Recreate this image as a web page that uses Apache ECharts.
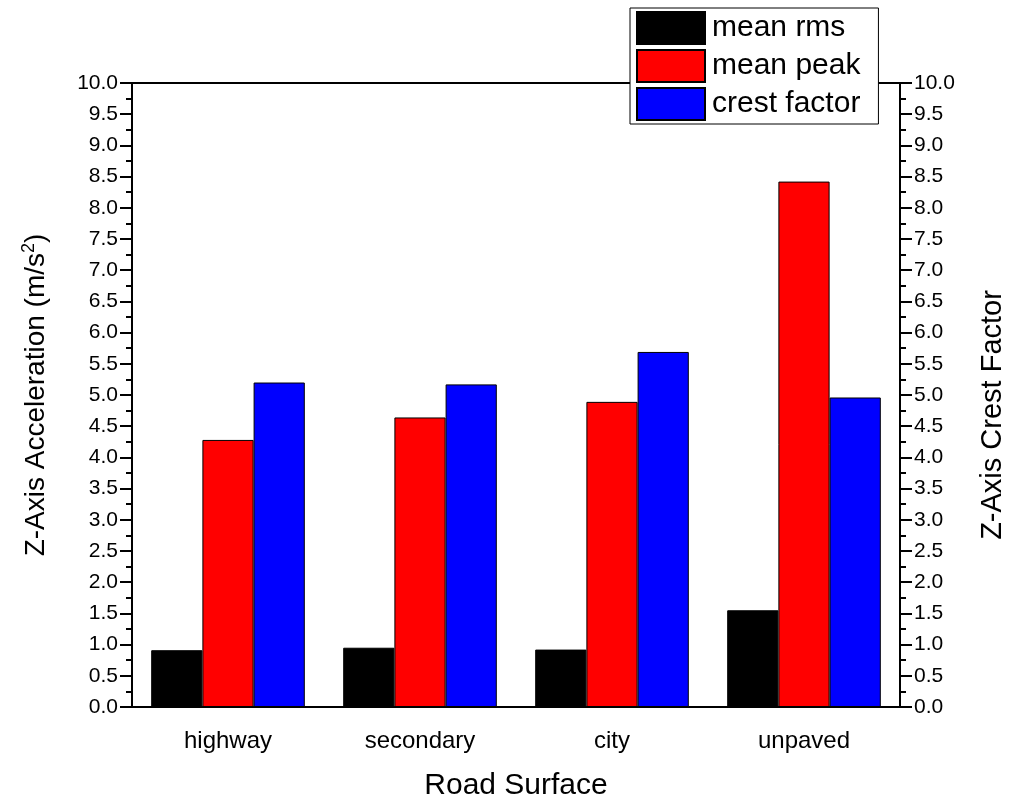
<!DOCTYPE html>
<html>
<head>
<meta charset="utf-8">
<script src="https://cdn.jsdelivr.net/npm/echarts@6/dist/echarts.min.js"></script>
<style>
  html, body { margin: 0; padding: 0; background: #fff; }
  #chart { width: 1010px; height: 799px; }
</style>
</head>
<body>
<div id="chart"></div>
<script>
// Road surfaces compared
const categories = ['highway', 'secondary', 'city', 'unpaved'];
// Z-axis acceleration (m/s^2)
const meanRms = [0.91, 0.95, 0.92, 1.55];
const meanPeak = [4.28, 4.64, 4.89, 8.42];
// Z-axis crest factor
const crestFactor = [5.20, 5.17, 5.69, 4.96];

const seriesNames = ['mean rms', 'mean peak', 'crest factor'];
const seriesColors = ['#000000', '#ff0000', '#0000ff'];

const FONT = 'Liberation Sans, Arial, sans-serif';

function valueAxis(name, position, nameGap, nameStyle) {
  return {
    type: 'value',
    position: position,
    min: 0,
    max: 10,
    interval: 0.5,
    name: name,
    nameLocation: 'middle',
    nameGap: nameGap,
    nameTextStyle: nameStyle,
    axisLine: { show: true, lineStyle: { color: '#000', width: 2 } },
    axisTick: { show: true, inside: false, length: 12, lineStyle: { color: '#000', width: 2 } },
    minorTick: { show: true, splitNumber: 2, length: 6, lineStyle: { color: '#000', width: 2 } },
    splitLine: { show: false },
    axisLabel: {
      fontFamily: FONT, fontSize: 21, color: '#000', margin: 14,
      formatter: v => v.toFixed(1)
    }
  };
}

const chart = echarts.init(document.getElementById('chart'), null, { renderer: 'canvas' });

const data = [meanRms, meanPeak, crestFactor];

chart.setOption({
  backgroundColor: '#ffffff',
  animation: false,
  grid: {
    left: 132, right: 110, top: 83, bottom: 92,
    containLabel: false,
    outerBoundsMode: 'none',
    show: true, borderColor: '#000', borderWidth: 2, backgroundColor: 'transparent'
  },
  legend: {
    left: 630, top: 8,
    orient: 'vertical',
    backgroundColor: '#ffffff',
    borderColor: '#000', borderWidth: 1,
    padding: [3, 18, 3, 6],
    itemGap: 4,
    itemWidth: 68, itemHeight: 32,
    textStyle: { fontFamily: FONT, fontSize: 30, color: '#000', padding: [0, 0, 0, 2] },
    data: seriesNames,
    icon: 'rect'
  },
  xAxis: {
    type: 'category',
    data: categories,
    name: 'Road Surface',
    nameLocation: 'middle',
    nameGap: 64,
    nameTextStyle: { fontFamily: FONT, fontSize: 30, color: '#000' },
    axisLine: { lineStyle: { color: '#000', width: 2 } },
    axisTick: { alignWithLabel: true, length: 11, lineStyle: { color: '#000', width: 2 } },
    axisLabel: { fontFamily: FONT, fontSize: 24, color: '#000', margin: 22 }
  },
  yAxis: [
    valueAxis('Z-Axis Acceleration (m/s{sup|2})', 'left', 80, {
      fontFamily: FONT, fontSize: 28, color: '#000',
      rich: { sup: { fontFamily: FONT, fontSize: 18, verticalAlign: 'top', padding: [0, 0, 14, 0] } }
    }),
    valueAxis('Z-Axis Crest Factor', 'right', 78, {
      fontFamily: FONT, fontSize: 29, color: '#000', padding: [0, 40, 0, 0]
    })
  ],
  series: seriesNames.map((name, i) => ({
    name: name,
    type: 'bar',
    yAxisIndex: i === 2 ? 1 : 0,
    data: data[i],
    barGap: '0%',
    barCategoryGap: '20%',
    itemStyle: { color: seriesColors[i], borderColor: '#000', borderWidth: 1 }
  }))
});
</script>
</body>
</html>
